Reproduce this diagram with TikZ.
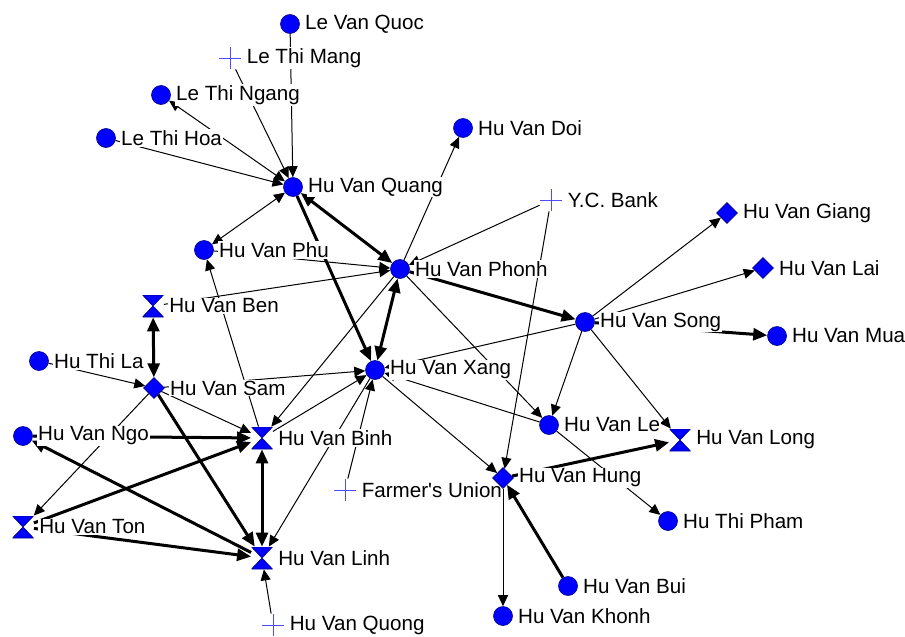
\documentclass[tikz,border=0pt]{standalone}
\usepackage{fontspec}
\setmainfont{Liberation Sans}[Ligatures=TeXOff]
\usetikzlibrary{shapes.geometric,arrows.meta}
\pgfdeclarelayer{bg}
\pgfsetlayers{bg,main}

\begin{document}
\begin{tikzpicture}[x=0.5pt, y=-0.5pt,
      circ/.style = {circle, fill=blue, draw=blue!50!black, line width=0.3pt,
        minimum size=9.5pt, inner sep=0pt},
      dia/.style = {diamond, fill=blue, draw=blue!50!black, line width=0.3pt,
        minimum size=10.5pt, inner sep=0pt},
      hglass/.style = {rectangle, minimum width=10.5pt, minimum height=11pt, inner sep=0pt,
        path picture={\filldraw[fill=blue, draw=blue!50!black, line width=0.3pt]
          (path picture bounding box.north west) -- (path picture bounding box.north east)
          -- (path picture bounding box.south west) -- (path picture bounding box.south east) -- cycle;}},
      org/.style = {rectangle, minimum size=11pt, inner sep=0pt,
        path picture={\draw[blue!70!white, line width=0.4pt]
          (path picture bounding box.north) -- (path picture bounding box.south)
          (path picture bounding box.west) -- (path picture bounding box.east);}},
      every label/.style = {fill=white, inner sep=0.5pt, font=\fontsize{10.3}{12}\selectfont},
      label distance=2pt,
      tie/.style = {line width=0.5pt, -{Triangle[length=5.5pt,width=5pt]}},
      tie2/.style = {line width=0.5pt, {Triangle[length=5.5pt,width=5pt]}-{Triangle[length=5.5pt,width=5pt]}},
      strong/.style = {line width=1.5pt, -{Triangle[length=7pt,width=6pt]}},
      strong2/.style = {line width=1.5pt, {Triangle[length=7pt,width=6pt]}-{Triangle[length=7pt,width=6pt]}}]
  \useasboundingbox (0,0) rectangle (905,637);
  \node[circ, label=right:Le Van Quoc] (quoc) at (290,24) {};
  \node[org, label=right:Le Thi Mang] (mang) at (230,58) {};
  \node[circ, label=right:Le Thi Ngang] (ngang) at (161,95) {};
  \node[circ, label=right:Le Thi Hoa] (hoa) at (106,138) {};
  \node[circ, label=right:Hu Van Quang] (quang) at (293,187) {};
  \node[circ, label=right:Hu Van Doi] (doi) at (463,128) {};
  \node[org, label=right:Y.C. Bank] (ycb) at (551,200) {};
  \node[dia, label=right:Hu Van Giang] (giang) at (727,213) {};
  \node[dia, label=right:Hu Van Lai] (lai) at (763,268) {};
  \node[circ, label=right:Hu Van Phu] (phu) at (204,250) {};
  \node[circ, label=right:Hu Van Phonh] (phonh) at (400,269) {};
  \node[hglass, label=right:Hu Van Ben] (ben) at (153,306) {};
  \node[circ, label=right:Hu Van Song] (song) at (585,322) {};
  \node[circ, label=right:Hu Van Mua] (mua) at (777,336) {};
  \node[circ, label=right:Hu Thi La] (la) at (39,361) {};
  \node[dia, label=right:Hu Van Sam] (sam) at (154,388) {};
  \node[circ, label=right:Hu Van Xang] (xang) at (375,370) {};
  \node[circ, label=right:Hu Van Ngo] (ngo) at (23,436) {};
  \node[hglass, label=right:Hu Van Binh] (binh) at (262,438) {};
  \node[circ, label=right:Hu Van Le] (le) at (549,425) {};
  \node[hglass, label=right:Hu Van Long] (long) at (680,440) {};
  \node[org, label=right:Farmer's Union] (farm) at (345,490) {};
  \node[dia, label=right:Hu Van Hung] (hung) at (503,478) {};
  \node[hglass, label=right:Hu Van Ton] (ton) at (23,527) {};
  \node[hglass, label=right:Hu Van Linh] (linh) at (262,558) {};
  \node[circ, label=right:Hu Thi Pham] (pham) at (668,521) {};
  \node[circ, label=right:Hu Van Bui] (bui) at (568,586) {};
  \node[circ, label=right:Hu Van Khonh] (khonh) at (503,616) {};
  \node[org, label=right:Hu Van Quong] (quong) at (273,625) {};
  \begin{pgfonlayer}{bg}
    \foreach \a/\b in {quoc/quang, mang/quang, hoa/quang, binh/phu, phonh/doi,
        ycb/phonh, ycb/hung, phu/phonh, ben/phonh, phonh/le, phonh/binh,
        song/xang, le/xang, xang/hung, le/pham, song/le, song/long, song/giang,
        song/lai, hung/khonh, farm/xang, binh/xang, xang/linh, sam/xang,
        sam/binh, sam/ton, la/sam, quong/linh}
      \draw[tie] (\a) -- (\b);
    \foreach \a/\b in {ngang/quang, phu/quang}
      \draw[tie2] (\a) -- (\b);
    \foreach \a/\b in {quang/xang, phonh/song, hung/long, song/mua, bui/hung,
        sam/linh, ngo/binh, linh/ngo, ton/binh, ton/linh}
      \draw[strong] (\a) -- (\b);
    \foreach \a/\b in {quang/phonh, phonh/xang, ben/sam, binh/linh}
      \draw[strong2] (\a) -- (\b);
  \end{pgfonlayer}
\end{tikzpicture}
\end{document}
